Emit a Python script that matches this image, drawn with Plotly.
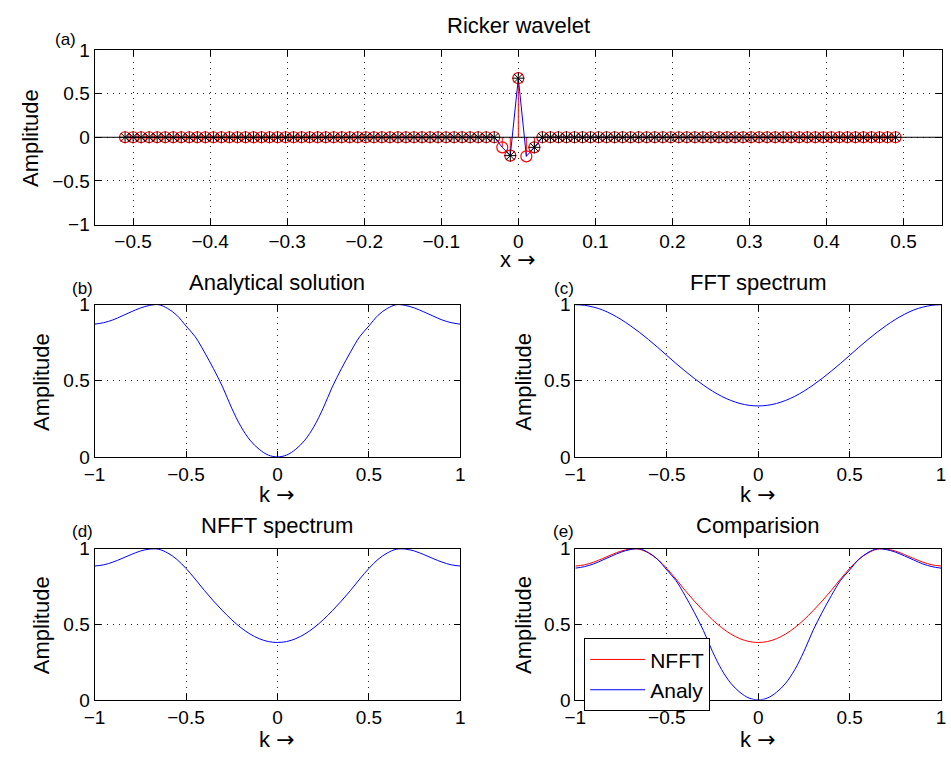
import plotly.graph_objects as go

# ---------------------------------------------------------------------------
# Data
# ---------------------------------------------------------------------------
# Ricker wavelet samples: offsets in units of the sample step, and amplitudes
sample_offset = list(range(-49, 48))
sample_step = 1 / 96
wavelet_amp = [0.0] * 47 + [-0.115, -0.21, 0.676, -0.218, -0.115] + [0.0] * 45
# equispaced samples marked with '*' (all except these offsets)
star_skip = [-2, 1]

# wavenumber axis for the spectra
k_values = [-1.0, -0.95, -0.9, -0.85, -0.8, -0.75, -0.7, -0.65, -0.6, -0.55,
            -0.5, -0.45, -0.4, -0.35, -0.3, -0.25, -0.2, -0.15, -0.1, -0.05,
            0.0, 0.05, 0.1, 0.15, 0.2, 0.25, 0.3, 0.35, 0.4, 0.45, 0.5,
            0.55, 0.6, 0.65, 0.7, 0.75, 0.8, 0.85, 0.9, 0.95, 1.0]

analytical = [0.872, 0.882, 0.9, 0.926, 0.953, 0.978, 0.995, 1.0, 0.975, 0.93,
              0.86, 0.79, 0.69, 0.58, 0.46, 0.32, 0.2, 0.11, 0.05, 0.012,
              0.0, 0.012, 0.05, 0.11, 0.2, 0.32, 0.46, 0.58, 0.69, 0.79, 0.86,
              0.93, 0.975, 1.0, 0.995, 0.978, 0.953, 0.926, 0.9, 0.882, 0.872]

fft_spec = [1.0, 0.996, 0.984, 0.965, 0.937, 0.903, 0.863, 0.819, 0.771, 0.72,
            0.667, 0.614, 0.564, 0.516, 0.472, 0.432, 0.398, 0.371, 0.351, 0.339,
            0.335, 0.339, 0.351, 0.371, 0.398, 0.432, 0.472, 0.516, 0.564, 0.614,
            0.667, 0.72, 0.771, 0.819, 0.863, 0.903, 0.937, 0.965, 0.984, 0.996, 1.0]

nfft_spec = [0.886, 0.894, 0.912, 0.936, 0.962, 0.985, 0.998, 0.997, 0.972, 0.93,
             0.87, 0.8, 0.725, 0.655, 0.59, 0.53, 0.478, 0.436, 0.405, 0.386,
             0.38, 0.386, 0.405, 0.436, 0.478, 0.53, 0.59, 0.655, 0.725, 0.8,
             0.87, 0.93, 0.972, 0.997, 0.998, 0.985, 0.962, 0.936, 0.912, 0.894, 0.886]

# ---------------------------------------------------------------------------
# Styling
# ---------------------------------------------------------------------------
FONT = "Liberation Sans, Arial, Helvetica, sans-serif"
BLUE = "#0000ff"
RED = "#ff0000"
TICK_SIZE = 19
LABEL_SIZE = 22
W, H = 951, 766
ARROW = "<span style='font-family:DejaVu Sans'>\u2192</span>"


def px_x(p):
    return p / W


def px_y(p):
    return 1 - p / H


def axis_style(**kw):
    d = dict(showline=True, linecolor="black", linewidth=1, mirror="ticks",
             ticks="inside", ticklen=6, tickcolor="black", tickwidth=1,
             showgrid=True, gridcolor="#222222", griddash="1px,5px", gridwidth=1,
             zeroline=False, tickfont=dict(family=FONT, size=TICK_SIZE, color="black"))
    d.update(kw)
    return d


fig = go.Figure()

# ---------------------------------------------------------------------------
# (a) Ricker wavelet
# ---------------------------------------------------------------------------
xs = [o * sample_step for o in sample_offset]

stem_x, stem_y = [], []
for x, y in zip(xs, wavelet_amp):
    stem_x += [x, x, None]
    stem_y += [0, y, None]
fig.add_trace(go.Scatter(x=stem_x, y=stem_y, mode="lines",
                         line=dict(color=RED, width=1), showlegend=False,
                         xaxis="x", yaxis="y"))
fig.add_trace(go.Scatter(x=xs, y=wavelet_amp, mode="lines",
                         line=dict(color=BLUE, width=1), showlegend=False,
                         xaxis="x", yaxis="y"))
fig.add_trace(go.Scatter(x=xs, y=wavelet_amp, mode="markers",
                         marker=dict(symbol="circle-open", size=11,
                                     line=dict(color=RED, width=1.2), color=RED),
                         showlegend=False, xaxis="x", yaxis="y"))
star_x = [x for o, x in zip(sample_offset, xs) if o not in star_skip]
star_y = [y for o, y in zip(sample_offset, wavelet_amp) if o not in star_skip]
fig.add_trace(go.Scatter(x=star_x, y=star_y, mode="markers",
                         marker=dict(symbol="asterisk-open", size=10,
                                     line=dict(color="black", width=1), color="black"),
                         showlegend=False, xaxis="x", yaxis="y"))

# ---------------------------------------------------------------------------
# (b)-(e) spectra
# ---------------------------------------------------------------------------
fig.add_trace(go.Scatter(x=k_values, y=analytical, mode="lines", line_shape="spline",
                         line=dict(color=BLUE, width=1), showlegend=False,
                         xaxis="x2", yaxis="y2"))
fig.add_trace(go.Scatter(x=k_values, y=fft_spec, mode="lines", line_shape="spline",
                         line=dict(color=BLUE, width=1), showlegend=False,
                         xaxis="x3", yaxis="y3"))
fig.add_trace(go.Scatter(x=k_values, y=nfft_spec, mode="lines", line_shape="spline",
                         line=dict(color=BLUE, width=1), showlegend=False,
                         xaxis="x4", yaxis="y4"))
fig.add_trace(go.Scatter(x=k_values, y=nfft_spec, mode="lines", line_shape="spline",
                         name="NFFT", line=dict(color=RED, width=1),
                         xaxis="x5", yaxis="y5"))
fig.add_trace(go.Scatter(x=k_values, y=analytical, mode="lines", line_shape="spline",
                         name="Analy", line=dict(color=BLUE, width=1),
                         xaxis="x5", yaxis="y5"))

# ---------------------------------------------------------------------------
# Axes layout (domains in paper units)
# ---------------------------------------------------------------------------
left_dom = [px_x(85), px_x(457)]
right_dom = [px_x(574), px_x(946)]
top_dom = [px_y(220.7), px_y(41)]
mid_dom = [px_y(459.5), px_y(303)]
bot_dom = [px_y(709.3), px_y(554)]

fig.update_layout(
    xaxis=axis_style(domain=[px_x(85), px_x(947)], range=[-0.55, 0.55], dtick=0.1,
                     tick0=0, anchor="y"),
    yaxis=axis_style(domain=top_dom, range=[-1, 1], dtick=0.5, anchor="x"),
    xaxis2=axis_style(domain=left_dom, range=[-1, 1], dtick=0.5, anchor="y2"),
    yaxis2=axis_style(domain=mid_dom, range=[0, 1], dtick=0.5, anchor="x2"),
    xaxis3=axis_style(domain=right_dom, range=[-1, 1], dtick=0.5, anchor="y3"),
    yaxis3=axis_style(domain=mid_dom, range=[0, 1], dtick=0.5, anchor="x3"),
    xaxis4=axis_style(domain=left_dom, range=[-1, 1], dtick=0.5, anchor="y4"),
    yaxis4=axis_style(domain=bot_dom, range=[0, 1], dtick=0.5, anchor="x4"),
    xaxis5=axis_style(domain=right_dom, range=[-1, 1], dtick=0.5, anchor="y5"),
    yaxis5=axis_style(domain=bot_dom, range=[0, 1], dtick=0.5, anchor="x5"),
)

# stem baseline across the full wavelet axis
fig.add_shape(type="line", xref="x domain", yref="y", x0=0, x1=1, y0=0, y1=0,
              line=dict(color="black", width=1), layer="above")

# ---------------------------------------------------------------------------
# Text: titles, panel letters, axis labels
# ---------------------------------------------------------------------------
texts = [
    ("Ricker wavelet", 516, 16, LABEL_SIZE, 0),
    ("Analytical solution", 271, 280, LABEL_SIZE, 0),
    ("FFT spectrum", 760, 280, LABEL_SIZE, 0),
    ("NFFT spectrum", 271, 530, LABEL_SIZE, 0),
    ("Comparision", 760, 530, LABEL_SIZE, 0),
    ("(a)", 55, 30, 17, 0),
    ("(b)", 73, 286, 17, 0),
    ("(c)", 562, 286, 17, 0),
    ("(d)", 73, 536, 17, 0),
    ("(e)", 562, 536, 17, 0),
    ("Amplitude", 20, 132, LABEL_SIZE, -90),
    ("Amplitude", 31, 382, LABEL_SIZE, -90),
    ("Amplitude", 521, 382, LABEL_SIZE, -90),
    ("Amplitude", 31, 632, LABEL_SIZE, -90),
    ("Amplitude", 521, 632, LABEL_SIZE, -90),
    ("x " + ARROW, 516, 257, LABEL_SIZE, 0),
    ("k " + ARROW, 271, 498, LABEL_SIZE, 0),
    ("k " + ARROW, 760, 498, LABEL_SIZE, 0),
    ("k " + ARROW, 271, 750, LABEL_SIZE, 0),
    ("k " + ARROW, 760, 750, LABEL_SIZE, 0),
]
for txt, cx, cy, size, ang in texts:
    fig.add_annotation(text=txt, x=px_x(cx), y=px_y(cy), xref="paper", yref="paper",
                       xanchor="center", yanchor="middle", showarrow=False,
                       textangle=ang, font=dict(family=FONT, size=size, color="black"))

fig.update_layout(
    width=W, height=H,
    margin=dict(l=0, r=0, t=0, b=0),
    paper_bgcolor="white", plot_bgcolor="white",
    font=dict(family=FONT, color="black"),
    legend=dict(x=px_x(583), y=px_y(646), xanchor="left", yanchor="top",
                bgcolor="white", bordercolor="black", borderwidth=1,
                font=dict(family=FONT, size=21, color="black"),
                itemwidth=55, tracegroupgap=0),
)

fig.write_html("out.html")
